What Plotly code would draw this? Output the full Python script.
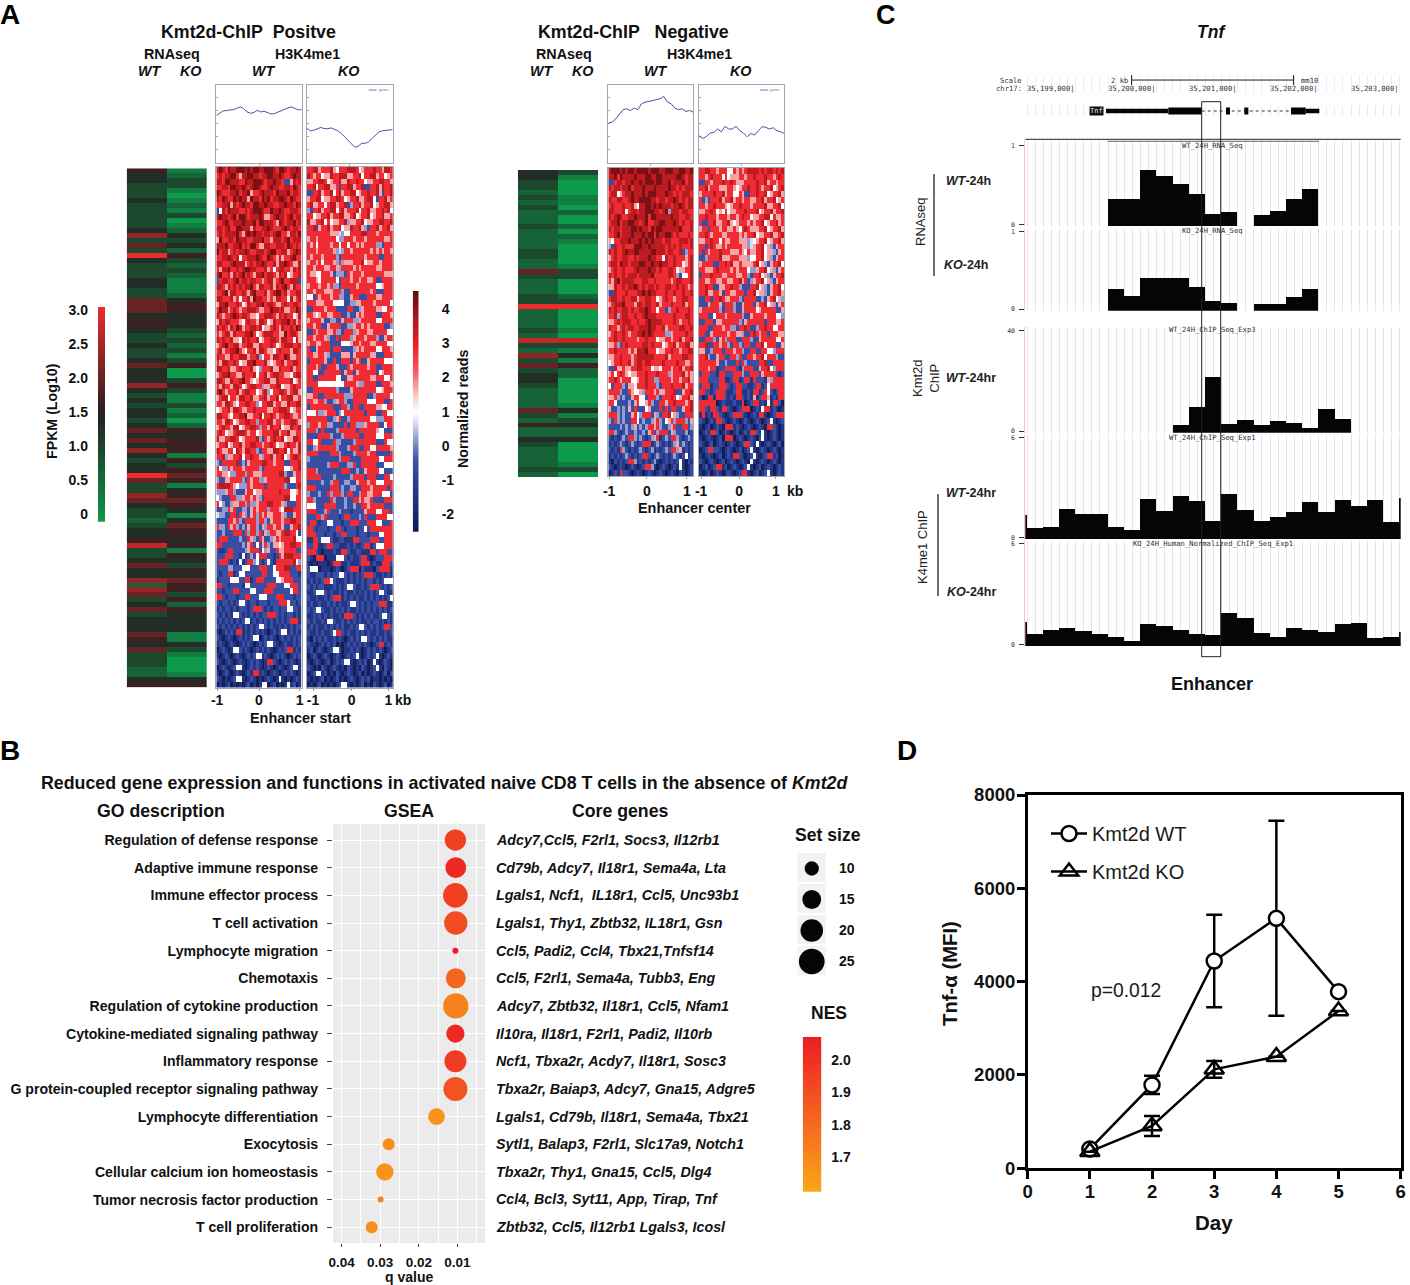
import plotly.graph_objects as go

W, H = 1410, 1285
FONT = "Liberation Sans"
MONO = "DejaVu Sans Mono"

# ---------- Panel A data (levels) ----------
RNA_POS_WT = "5443334333" "3347363943" "3344336664" "5543343346" "4447434344" "3464647434" "4963376433" "2344583346" "4472763463" "4446546333" "2245"
RNA_POS_KO = "1233101213" "0124342532" "3211124554" "4432323135" "0035311312" "0254555153" "5651456541" "4655451543" "5465535254" "4441143100" "0145"
RNA_NEG_WT = "4433232322" "2322223322" "6322233922" "2232832736" "3443222263" "252243222232"
RNA_NEG_KO = "3100011020" "0202100001" "3300023900" "0010831415" "2200000141" "342240000130"
RNA_LEVELS = [0, 0.33, 0.67, 1.0, 1.33, 1.67, 2.0, 2.33, 2.67, 3.0]
READ_LEVELS = [-2.3, -1.4, -0.6, 0.2, 0.7, 1.0, 1.7, 2.8, 3.5, 4.2]

POS_WT = """
898798899989899889998799878898
787889976889988788998898778988
887998887798899987889887226878
778879988987899877898877887987
987778897889677898887988897887
879877989886988798978899879877
778896878988799889887788988798
258798887787899987798898778887
898878979987888986678988789788
778987888988897998887698788978
887897799888687788987778987887
787888897689898878878997768879
697788798887788897768887897888
888977889787997668877888798787
978867878898778887899778867898
778898785778889877987686778977
887778988867878898778688987668
768897787899887778675788776878
897786878978768897887687856778
278877897887887767886789778882
887687878788976887786878976877
778968877876897778678997867788
887778675778698877676887758678
688977787568778897887667877887
798867876778887667798878667798
876778987887665778887687877568
687887776578776887568778897867
878768798677887856678768778798
767886877788975678887766978876
878778665878778567788768877586
678977886778866877787567888778
786778897657786887665787776887
877668778886778357768877986677
768877875668897778656778677887
887786678777865377786687778677
678897766877785778678877665788
887668778977656778866877778567
768776887567887736677885667877
897677786788775678357788767886
678857768877866778677857788667
776887657788773577886776687788
567786887667787777667788875677
887765778896677857787677887667
776887567788773777886776778876
678776885677887377687785668778
787566788876775677778867786677
866778875677778327678778566887
677856778677887767787566787768
876677587688773277668877857668
778366778577877637786778567887
327777782326777788776777227778
753376777677777327777777556778
776653377737766677777788322677
322667777327677336777777885577
788887653337677772777777322278
333677322267756677777787775567
532227733677676327777777885577
753223667737336777887776322277
223376722332676777377765888777
433227727632673767667776322677
222277673277773773267776778877
733276732326773263776776226778
223222777273773726377667887752
277722223227632762236767777855
772222222326725267326656778877
211277222236777253622766777722
222777221512325777221276888777
277721215127735212521777777853
222233222555222777225777882277
212277125522222277225577772221
122225552277127772222556777222
772212222155222222777222557772
221222772222552227772222225772
772122212277222555222777222122
212212125521221222122277752212
121221212221277721212212255221
212121552121212122777212122121
121212121255121212121212127771
212121212121212552121121212122
101212177121212121012125512121
210121012121255012121012121212
121012101212101212552101211212
012101552121012121210121277121
101210121012125512101212101212
210121012101212101772101212101
012101255101212101210121012551
101210121012177121012101212101
210101255101210101210151010121
010120101012010155012010151201
"""
POS_KO = """
778867778657778887567778776887
876775668778886677857788677567
667788756778668778775667788776
778577886672778867782277868778
227786778578677885677877862778
677885667788756778667885277867
786677578867782377867785677886
327786778857867778577866778785
775667786778866785677856778667
866778575667783667785667788778
778267786778566877863277867786
777777776664355777788777677777
677677777753377767776777777667
767577776775775776767777332777
777677777634377677777767676776
767776777732777777776777722777
677675777637366677785667767777
776777667763777767677777667777
766557776233327677767777777666
777657777752777677677667227777
677767767332777776777777556777
776777666777322777777767222777
552767776773322677222777667777
777666777555522336677776777775
227777677722227722367777665577
776567766777223226767777227776
677776223322677733677777557777
776772267777223367767677777223
227677766733277736777667777755
776777632272777367776777322677
677667772222555677677766777755
722677772777222236767777557776
776677632222666267777766222777
277777622722777276722677777555
777672277762227677777677227777
775522777777267726777777256777
772277777755226677777766777557
777755555555577776337777227776
227777777732222677777777556777
667722777777733377777223777775
776677322367732277777555777227
277777777222773277227777665577
555733677723577777772777227755
777777722367223777777755333777
377767733222272773336777722577
777327222237777772777777655222
222277773222377777227777555777
775572222733222237777777222755
223677777732223777227755777776
777722227773222237777677222227
322222222223777222277777755777
222222237772223372277777222555
777322222222777223226777755222
777772222322222377772777222775
222223223772233226777677555777
777222227772322332277767777727
322232273777327722377667775552
773222227322232277676672222777
555222777722232232277677777222
777222372223222122226777557772
222773722221277222327222777755
277212255222122777222777552227
772122212277212221225277777777
777222122122772221222122255777
117725552112211177222277722777
227711277221112121127712555777
777210111211772112211177277722
210777011155521211277101222777
101011101777112111277712117772
255501110121012777021110277771
211222121225521212127772112121
121212775211121212121221212555
212122111212125521121277721212
112555212112121121212121255211
211211212777121212112121212125
121121121212112552121212277711
212552112121212112121212121212
112121212112177721212121125521
212112155211212121211212212121
121211212121211212552121212772
211212112577212112121211211212
102121211212101212155212121211
211012121201012121212101277121
120121012552011212101212121012
012101210121012125101212510121
101210120121255101212015101210
210102101210102101021012510210
012551201021012101201012101202
101012010120101210121201101010
010120101012551010120102101201
"""
NEG_WT = """
899989899899998999889998899889
889798888988899889988888998788
227887889889899989988978889788
878878897888988898888988787888
788567889888989998889887878887
877887789889999887887889878788
787778778658899898988878898788
887778578878899988789388878877
878987788988897998888898877887
788978899887897788998889878778
878878889989887989988888897778
778978889888989979889987877787
657788898889898988878877788878
328778777999889888887878787778
878778988998888998887887782377
678778877878889887758778777678
788798878889988988988778775678
678778777898889887877887566778
878778788878888977777887325578
768978888777887787777767887778
668778788987878878778877878767
228777877788989887778778778778
788778778867788775678776778877
678889777688788778677787778677
878778878778898775772377877787
778378877877898887777778777887
667878887787789888877778767787
877678788778889887786777788778
678778767788989877773367777877
778778777767787775667767786778
667327877777887877756778677886
778777767688897775667787767788
667787776788888877778677778877
567787786788788777787777877667
228667667788777566577767786778
675787656677787778777367778676
778767775567787733777767767786
527773266577787773277787778677
777732276556377767667778226778
667323226775527773277787567786
775222232675567322776778777678
622323262722256222727277226778
777323226753777263277856322777
327323227752322367325673777326
222232323623237767322367227723
773212322322326723777263222312
212123277323212367123277321232
121232123212777123212123623212
212173212123212312123277361212
121212321212772123212123212512
102121277312121231012121251021
210121012101277310121012151012
012172210121012101210121021012
"""
NEG_KO = """
778877677755767678888787887878
776787775756667767787778776787
227767778778766677778778677677
778677766677656778778767785678
677778778677557622778778567786
723277786778677677667786778567
776778777656778777677778667785
667787565756677787778567786778
778777677767767877566778857667
722778667786567776767785677867
677277767766765787666778567786
778767776677776767785667786678
667787757667776663456778567786
772787667677777663467785632677
727677787776667657667785663267
223777786667776663557785632677
677772277878667666678563267785
776667877776767775336778563267
277787776677766773277856326778
776677667766778672367785632677
778772266778773222778563267785
778667762776677727785663267786
227727787667773277772232678563
222677762777322677726778563267
677777732777322677775677777226
777225777677777322677776777553
227772667777773267777772777667
777227776773327787223778775577
772267777767766322787677277766
227773267377722777322677777557
778227767732773277227785777226
662237772777677322772277553777
778322677227737227767785777322
777777622322272732222778227777
777677122777721377722677853777
277722177222777322777267777212
777222277112771277172221637777
277712277721277221127712577777
772212777211277112177127521277
201771777212177212161277612177
777777012111211701277121517720
772177217721012777012157712101
171217721012777210121771012777
210121772101210121012101251012
101201210777121012101210772101
012177201210120121772151012101
101210120777012101210251012101
210120121012101277215101210120
012772210121012012510121012101
101210120121772101251012771201
210121012012101210510121012101
012012771201210125101201210121
101201210121012771012012510121
"""


def rows(block, width=30):
    out = []
    for line in block.split():
        out.append([READ_LEVELS[int(c)] for c in line[:width].ljust(width, line[-1])])
    return out


PROFILE_POS_WT = [3.64, 3.79, 4.0, 4.03, 4.05, 4.1, 4.2, 4.31, 4.18, 3.92, 3.82, 3.87, 4.05, 3.92, 3.97, 3.85, 3.77, 3.79, 3.9, 4.05, 4.1, 4.23, 4.31, 4.18, 4.08, 4.1]
PROFILE_POS_KO = [2.64, 2.46, 2.51, 2.64, 2.72, 2.64, 2.62, 2.69, 2.56, 2.46, 2.26, 2.0, 1.74, 1.44, 1.18, 1.28, 1.51, 1.49, 1.62, 1.87, 2.13, 2.38, 2.46, 2.51, 2.51, 2.56]
PROFILE_NEG_WT = [3.06, 3.12, 3.38, 3.77, 4.1, 4.16, 4.03, 4.21, 4.1, 4.55, 4.68, 4.73, 4.81, 4.88, 4.94, 5.12, 4.68, 4.55, 4.21, 4.1, 4.16, 3.95, 4.03, 3.9]
PROFILE_NEG_KO = [2.08, 1.87, 2.03, 2.29, 2.34, 2.6, 2.39, 2.81, 2.6, 2.6, 2.81, 2.47, 2.29, 2.0, 2.26, 2.13, 2.47, 2.78, 2.73, 2.6, 2.7, 2.47, 2.39, 2.26]

# ---------- Panel B data ----------
GO_TERMS = ["Regulation of defense response", "Adaptive immune response", "Immune effector process", "T cell activation",
            "Lymphocyte migration", "Chemotaxis", "Regulation of cytokine production", "Cytokine-mediated signaling pathway",
            "Inflammatory response", "G protein-coupled receptor signaling pathway", "Lymphocyte differentiation", "Exocytosis",
            "Cellular calcium ion homeostasis", "Tumor necrosis factor production", "T cell proliferation"]
CORE_GENES = ["Adcy7,Ccl5, F2rl1, Socs3, Il12rb1", "Cd79b, Adcy7, Il18r1, Sema4a, Lta", "Lgals1, Ncf1,  IL18r1, Ccl5, Unc93b1",
              "Lgals1, Thy1, Zbtb32, IL18r1, Gsn", "Ccl5, Padi2, Ccl4, Tbx21,Tnfsf14", "Ccl5, F2rl1, Sema4a, Tubb3, Eng",
              "Adcy7, Zbtb32, Il18r1, Ccl5, Nfam1", "Il10ra, Il18r1, F2rl1, Padi2, Il10rb", "Ncf1, Tbxa2r, Acdy7, Il18r1, Sosc3",
              "Tbxa2r, Baiap3, Adcy7, Gna15, Adgre5", "Lgals1, Cd79b, Il18r1, Sema4a, Tbx21", "Sytl1, Balap3, F2rl1, Slc17a9, Notch1",
              "Tbxa2r, Thy1, Gna15, Ccl5, Dlg4", "Ccl4, Bcl3, Syt11, App, Tirap, Tnf", "Zbtb32, Ccl5, Il12rb1 Lgals3, Icosl"]
Q_VALUES = [0.0105, 0.0104, 0.0105, 0.0104, 0.0105, 0.0104, 0.0104, 0.0105, 0.0105, 0.0105, 0.0154, 0.0278, 0.0288, 0.0299, 0.0322]
SET_SIZES = [18.2, 17.4, 23.3, 21.2, 4.5, 16.4, 24.3, 14.3, 19.2, 22.2, 12.4, 8.0, 13.2, 4.5, 8.0]
NES = [1.95, 2.03, 1.95, 1.90, 2.07, 1.82, 1.72, 2.03, 1.96, 1.88, 1.66, 1.68, 1.66, 1.72, 1.68]
SIZE_LEGEND = [10, 15, 20, 25]

# ---------- Panel C data ----------
RNA_WT_TRACK = [0.34, 0.34, 0.71, 0.63, 0.53, 0.41, 0.16, 0.18, None, 0.14, 0.19, 0.34, 0.47]
RNA_KO_TRACK = [0.27, 0.19, 0.42, 0.41, 0.42, 0.30, 0.12, 0.10, None, 0.08, 0.09, 0.17, 0.28]
KMT2D_TRACK = [2.9, 10.2, 22, 3.5, 4.8, 2.9, 4.4, 3.9, 1.7, 9.3, 5.2]
K4_WT_TRACK = [1.43, 0.65, 0.75, 1.78, 1.51, 1.51, 0.75, 0.55, 2.37, 1.65, 2.57, 2.24, 1.10, 2.69, 1.73, 1.10, 1.33, 1.63, 2.2, 1.61, 2.29, 1.96, 2.29, 1.02, 2.45]
K4_KO_TRACK = [1.39, 0.73, 0.92, 1.04, 0.86, 0.73, 0.55, 0.31, 1.27, 1.18, 0.94, 0.69, 0.63, 1.92, 1.63, 0.76, 0.53, 1.08, 0.94, 0.84, 1.29, 1.35, 0.49, 0.53, 0.84]
BIN = 200
RNA_START, KMT2D_START, K4_START = 35199400, 35200200, 35198200
GENE_CDS_NARROW = [(35199374, 35200144), (35201840, 35202008)]
GENE_EXON_WIDE = [(35200144, 35200556), (35201658, 35201840)]
GENE_EXON_SMALL = [(35200856, 35200905), (35201082, 35201132)]
GENE_INTRON = (35200556, 35201658)
COORD_TICKS = [35199000, 35200000, 35201000, 35202000, 35203000]
SCALE_BAR = (35199690, 35201690)

# ---------- Panel D data ----------
DAYS = [1, 2, 3, 4, 5]
WT_MFI = [414, 1786, 4443, 5357, 3786]
WT_ERR = [0, 196, 990, 2090, 0]
KO_MFI = [357, 907, 2121, 2393, 3371]
KO_ERR = [0, 215, 180, 0, 0]

# ---------- helpers ----------
fig = go.Figure()
ann, shp = [], []
n_ax = [0]


def px_x(x):
    return x / W


def px_y(y):
    return 1 - y / H


def axes(x0, x1, y0, y1, xa=None, ya=None):
    n_ax[0] += 1
    n = n_ax[0]
    base = dict(showgrid=False, zeroline=False, showticklabels=False, ticks="", showline=False, layer="below traces", automargin=False)
    xd = dict(base, domain=[px_x(x0), px_x(x1)], anchor=f"y{n}")
    yd = dict(base, domain=[px_y(y1), px_y(y0)], anchor=f"x{n}")
    xd.update(xa or {})
    yd.update(ya or {})
    fig.layout[f"xaxis{n}"] = xd
    fig.layout[f"yaxis{n}"] = yd
    return f"x{n}", f"y{n}"


def T(x, y, text, size=13, bold=True, italic=False, angle=0, color="#111", anchor="center", family=FONT):
    if italic:
        text = f"<i>{text}</i>"
    if bold:
        text = f"<b>{text}</b>"
    ann.append(dict(x=px_x(x), y=px_y(y), xref="paper", yref="paper", text=text, showarrow=False,
                    font=dict(size=size, family=family, color=color), xanchor=anchor, yanchor="middle",
                    textangle=angle, align="center"))


def L(x0, y0, x1, y1, color="#222", width=1):
    shp.append(dict(type="line", xref="paper", yref="paper", x0=px_x(x0), x1=px_x(x1), y0=px_y(y0), y1=px_y(y1),
                    line=dict(color=color, width=width), layer="above"))


def ramp(x0, x1, y0, y1, vmin, vmax, scale, vals, text, side="right", standoff=10, size=14, ticks=""):
    zs = [vmin + (vmax - vmin) * i / 119 for i in range(120)]
    xa, ya = axes(x0, x1, y0, y1, ya=dict(range=[vmin, vmax], tickvals=vals, ticktext=[f"<b>{t}</b>" for t in text], side=side,
                                          showticklabels=True, ticklabelstandoff=standoff, ticks=ticks,
                                          ticklen=5, tickcolor="rgba(255,255,255,0.45)",
                                          tickfont=dict(size=size, family=FONT, color="#111")),
                  xa=dict(range=[-0.5, 0.5]))
    fig.add_trace(go.Heatmap(z=[[v] for v in zs], x=[0], y=zs, zmin=vmin, zmax=vmax, colorscale=scale,
                             showscale=False, xaxis=xa, yaxis=ya, hoverinfo="skip"))


READ_SCALE_POINTS = [(-2.5, "#111a50"), (-1, "#2b3f96"), (-0.4, "#3f55a8"), (0.1, "#8390c8"), (0.6, "#ccd0e8"), (1.0, "#ffffff"),
                     (1.5, "#f7c4c4"), (2.2, "#f0595c"), (3.0, "#ee1c25"), (3.6, "#b31b1f"), (4.52, "#5c0d0f")]
READ_SCALE = [[(v + 2.5) / 7.02, c] for v, c in READ_SCALE_POINTS]
RNA_SCALE = [[0, "#0d9a4b"], [0.5, "#231f20"], [1, "#ee2a2a"]]
NES_SCALE = [[0, "#faa61a"], [1, "#ed1c24"]]


def rna_heat(x0, x1, y0, y1, wt, ko):
    xa, ya = axes(x0, x1, y0, y1, xa=dict(type="category", range=[-0.5, 1.5]), ya=dict(range=[len(wt) - 0.5, -0.5]))
    z = [[RNA_LEVELS[int(a)], RNA_LEVELS[int(b)]] for a, b in zip(wt, ko)]
    fig.add_trace(go.Heatmap(z=z, x=["WT", "KO"], zmin=0, zmax=3, colorscale=RNA_SCALE, showscale=False,
                             xaxis=xa, yaxis=ya, hoverinfo="skip"))


def read_heat(x0, x1, y0, y1, block, tick_pos, standoff):
    z = rows(block)
    nr, nc = len(z), len(z[0])
    xa, ya = axes(x0, x1, y0, y1,
                  xa=dict(range=[-1, 1], tickvals=tick_pos, ticktext=["<b>-1</b>", "<b>0</b>", "<b>1</b>"], showticklabels=True,
                          ticks="outside", ticklen=2, tickcolor="#999", tickfont=dict(size=14, family=FONT, color="#111"),
                          showline=True, linecolor="#a5a5ad", mirror=True, ticklabelstandoff=standoff),
                  ya=dict(range=[nr - 0.5, -0.5], showline=True, linecolor="#a5a5ad", mirror=True))
    fig.add_trace(go.Heatmap(z=z, x0=-1 + 1.0 / nc, dx=2.0 / nc, y0=0, dy=1, zmin=-2.5, zmax=4.52, colorscale=READ_SCALE,
                             showscale=False, xaxis=xa, yaxis=ya, hoverinfo="skip"))


def profile(x0, x1, y0, y1, values, legend=False):
    n = len(values)
    xa, ya = axes(x0, x1, y0, y1,
                  xa=dict(range=[-1, 1], showline=True, linecolor="#a5a5ad", mirror=True, tickvals=[0], ticks="outside", ticklen=2, tickcolor="#aaa"),
                  ya=dict(range=[0, 6], showline=True, linecolor="#a5a5ad", mirror=True, tickvals=[1, 2, 3, 4, 5], ticks="inside", ticklen=2, tickcolor="#aaa"))
    fig.add_trace(go.Scatter(x=[-1 + 2 * i / (n - 1) for i in range(n)], y=values, mode="lines",
                             line=dict(color="#4a50a8", width=1), xaxis=xa, yaxis=ya, showlegend=False, hoverinfo="skip"))
    if legend:
        L(x1 - 24, y0 + 5, x1 - 16, y0 + 5, "#4a50a8", 0.8)
        T(x1 - 9, y0 + 5, "genes", 3.5, bold=False, color="#777")


# ---------- Panel A ----------
T(10, 15, "A", 28, color="#000")
T(248, 32, "Kmt2d-ChIP&#160;&#160;Positve", 17.8)
T(172, 54, "RNAseq", 14.3)
T(307, 54, "H3K4me1", 14.3)
for x, t in [(149, "WT"), (190, "KO"), (263, "WT"), (348, "KO")]:
    T(x, 71, t, 14.3, italic=True)
T(633, 32, "Kmt2d-ChIP&#160;&#160;&#160;Negative", 17.8)
T(564, 54, "RNAseq", 14.3)
T(699, 54, "H3K4me1", 14.3)
for x, t in [(541, "WT"), (582, "KO"), (655, "WT"), (740, "KO")]:
    T(x, 71, t, 14.3, italic=True)

profile(216.3, 301.7, 85, 162.7, PROFILE_POS_WT)
profile(307, 392.7, 85, 162.7, PROFILE_POS_KO, legend=True)
profile(608.3, 693.3, 85, 162.7, PROFILE_NEG_WT)
profile(699, 784.3, 85, 162.7, PROFILE_NEG_KO, legend=True)

rna_heat(126.7, 207, 168.3, 687.5, RNA_POS_WT, RNA_POS_KO)
rna_heat(518, 598.3, 170, 477, RNA_NEG_WT, RNA_NEG_KO)
read_heat(216.3, 301.7, 167, 687.5, POS_WT, [-0.98, 0.0, 0.95], -2)
read_heat(307, 392.7, 167, 687.5, POS_KO, [-0.86, 0.04, 0.9], -2)
read_heat(608.3, 693.3, 168, 476, NEG_WT, [-0.98, -0.09, 0.85], 0)
read_heat(699, 784.3, 168, 476, NEG_KO, [-0.95, -0.06, 0.8], 0)
T(403, 700, "kb", 14)
T(795, 491, "kb", 14)
T(300, 718, "Enhancer start", 14.4)
T(694, 508, "Enhancer center", 14.4)

ramp(98, 105, 307, 521.7, -0.11, 3.04, RNA_SCALE, [0, 0.5, 1, 1.5, 2, 2.5, 3], ["0", "0.5", "1.0", "1.5", "2.0", "2.5", "3.0"], side="left", standoff=9)
T(52, 411, "FPKM (Log10)", 14.2, angle=-90)
ramp(412.7, 418.7, 291, 531.7, -2.5, 4.52, READ_SCALE, [-2, -1, 0, 1, 2, 3, 4], ["-2", "-1", "0", "1", "2", "3", "4"], standoff=22)
T(463, 409, "Normalized reads", 14.2, angle=-90)

# ---------- Panel B ----------
T(10, 750, "B", 28, color="#000")
T(444, 783, "Reduced gene expression and functions in activated naive CD8 T cells in the absence of <i>Kmt2d</i>", 17.8)
T(161, 811, "GO description", 17.7)
T(409, 811, "GSEA", 17.7)
T(620, 811, "Core genes", 17.7)


def dot_diameter(s):
    return (30.4 * s - 100) ** 0.5


xa, ya = axes(333, 485, 824, 1243,
              xa=dict(range=[0.04225, 0.00282], tickvals=[0.04, 0.03, 0.02, 0.01], ticktext=["<b>0.04</b>", "<b>0.03</b>", "<b>0.02</b>", "<b>0.01</b>"],
                      showticklabels=True, showgrid=True, gridcolor="white", gridwidth=1.3, ticks="outside", ticklen=3, tickcolor="#444",
                      tickfont=dict(size=13.5, family=FONT, color="#111"), ticklabelstandoff=4,
                      minor=dict(dtick=0.005, tick0=0, showgrid=True, gridcolor="white", gridwidth=0.7, ticks="")),
              ya=dict(type="category", categoryorder="array", categoryarray=GO_TERMS, range=[14.57, -0.58], tickvals=GO_TERMS,
                      ticktext=[f"<b>{t}</b>" for t in GO_TERMS], showticklabels=True, showgrid=True, gridcolor="white", gridwidth=1.3,
                      ticks="outside", ticklen=5, tickcolor="#444", ticklabelstandoff=6,
                      tickfont=dict(size=14.1, family=FONT, color="#111")))
shp.append(dict(type="rect", xref="paper", yref="paper", x0=px_x(333), x1=px_x(485), y0=px_y(1243), y1=px_y(824),
                fillcolor="#ebebeb", line=dict(width=0), layer="below"))
fig.add_trace(go.Scatter(x=Q_VALUES, y=GO_TERMS, mode="markers", xaxis=xa, yaxis=ya, showlegend=False,
                         marker=dict(size=[dot_diameter(s) for s in SET_SIZES], sizemode="diameter", color=NES,
                                     cmin=1.595, cmax=2.07, colorscale=NES_SCALE, line=dict(width=0), opacity=1)))
T(409, 1277, "q value", 14)
for i, g in enumerate(CORE_GENES):
    T(494, 840 + 27.65 * i, g, 14.25, italic=True, anchor="left")

T(828, 835, "Set size", 17.6)
for c in range(4):
    shp.append(dict(type="rect", xref="paper", yref="paper", x0=px_x(797.5), x1=px_x(826), y0=px_y(853 + 31 * c + 29), y1=px_y(853 + 31 * c),
                    fillcolor="#f2f2f2", line=dict(width=0), layer="below"))
labels = [str(s) for s in SIZE_LEGEND]
xa, ya = axes(797.5, 826, 853, 977,
              ya=dict(type="category", categoryorder="array", categoryarray=labels, range=[3.5, -0.5], tickvals=labels,
                      ticktext=[f"<b>{t}</b>" for t in labels], showticklabels=True, side="right", ticklabelstandoff=12,
                      tickfont=dict(size=14, family=FONT, color="#111")),
              xa=dict(range=[-0.5, 0.5]))
fig.add_trace(go.Scatter(x=[0, 0, 0, 0], y=labels, mode="markers", xaxis=xa, yaxis=ya, showlegend=False,
                         marker=dict(size=[dot_diameter(s) for s in SIZE_LEGEND], sizemode="diameter", color="#050505", line=dict(width=0), opacity=1)))
T(829, 1013, "NES", 17.5)
ramp(802.7, 821.3, 1037, 1191.7, 1.595, 2.07, NES_SCALE, [1.7, 1.8, 1.9, 2.0], ["1.7", "1.8", "1.9", "2.0"], standoff=9, ticks="inside")

# ---------- Panel C ----------
T(886, 15, "C", 27, color="#000")
T(1211, 32, "Tnf", 17.5, italic=True)


def G(px):
    return 35200000 + (px - 1156.67) / 0.081


G_RANGE = [G(1025.3), G(1400.7)]
GRID = dict(range=G_RANGE, showgrid=True, gridcolor="#e2e2f0", gridwidth=1, tick0=35198400, dtick=100)


def track(y0, y1, y_max, top_tick, values, start, title, title_y, tick_top_label):
    base_tick = y_max * 1.5 / (y1 - y0)
    xa, ya = axes(1025.3, 1400.7, y0, y1, xa=dict(GRID),
                  ya=dict(range=[0, y_max], tickvals=[base_tick, top_tick], ticktext=["0", tick_top_label], showticklabels=True,
                          ticks="outside", ticklen=5, tickcolor="#333", showline=True, linecolor="#f6c2c8", ticklabelstandoff=3,
                          tickfont=dict(size=6.5, family=MONO, color="#333")))
    fig.add_trace(go.Bar(x=[start + BIN * i + BIN / 2 for i in range(len(values))], y=values, width=BIN, marker=dict(color="#050505", line=dict(width=0)),
                         xaxis=xa, yaxis=ya, showlegend=False, hoverinfo="skip"))
    T(1212.7, title_y, title, 7.2, bold=False, color="#333", family=MONO)


track(139.5, 226, 1.08, 1, RNA_WT_TRACK, RNA_START, "WT_24H_RNA_Seq", 145, "1")
track(229, 310.7, 1.038, 1, RNA_KO_TRACK, RNA_START, "KO_24H_RNA_Seq", 230, "1")
track(327, 432.7, 41.45, 40, KMT2D_TRACK, KMT2D_START, "WT_24H_ChIP_Seq_Exp3", 330, "40")
track(435, 539.3, 6.135, 6, K4_WT_TRACK, K4_START, "WT_24H_ChIP_Seq_Exp1", 437, "6")
track(541, 646, 6.13, 6, K4_KO_TRACK, K4_START, "KO_24H_Human_Normalized_ChIP_Seq_Exp1", 543, "6")

# ruler rows
xa, ya = axes(1025.3, 1400.7, 75, 93, xa=dict(range=G_RANGE, showgrid=True, gridcolor="#ededf3", tick0=35198400, dtick=100), ya=dict(range=[0, 1]))
fig.add_trace(go.Scatter(x=list(SCALE_BAR), y=[0.72, 0.72], mode="lines+markers", xaxis=xa, yaxis=ya, showlegend=False, hoverinfo="skip",
                         line=dict(color="#222", width=1), marker=dict(symbol="line-ns", size=7, line=dict(color="#222", width=1))))
T(1011, 80, "Scale", 7.2, bold=False, color="#333", family=MONO)
T(1009, 89, "chr17:", 7.2, bold=False, color="#333", family=MONO)
T(1119, 80, "2 kb", 7.2, bold=False, color="#333", family=MONO)
T(1309, 80, "mm10", 7.2, bold=False, color="#333", family=MONO)
for g in COORD_TICKS:
    px = 1156.67 + (g - 35200000) * 0.081
    T(px + 1, 89, f"{g:,}|", 7.2, bold=False, color="#333", family=MONO, anchor="right")

# gene model
xa, ya = axes(1025.3, 1400.7, 106, 116, xa=dict(range=G_RANGE, showgrid=True, gridcolor="#f2e6ee", tick0=35198400, dtick=100), ya=dict(range=[-1, 1]))
fig.add_trace(go.Scatter(x=list(GENE_INTRON), y=[0, 0], mode="lines", xaxis=xa, yaxis=ya, showlegend=False, hoverinfo="skip",
                         line=dict(color="#2f2f55", width=1, dash="dot")))
for seg, w in [(GENE_CDS_NARROW, 4.5), (GENE_EXON_WIDE, 7), (GENE_EXON_SMALL, 7)]:
    for a, b in seg:
        fig.add_trace(go.Scatter(x=[a, b], y=[0, 0], mode="lines", xaxis=xa, yaxis=ya, showlegend=False, hoverinfo="skip",
                                 line=dict(color="#050505", width=w)))
ann.append(dict(x=px_x(1096.5), y=px_y(111), xref="paper", yref="paper", text="Tnf", showarrow=False, bgcolor="#111", borderpad=0,
                font=dict(size=7, family=MONO, color="#eee"), xanchor="center", yanchor="middle"))
L(1025.3, 139.3, 1400.7, 139.3, "#222", 1)
L(1107.7, 141.3, 1319, 141.3, "#666", 1)
shp.append(dict(type="rect", xref="paper", yref="paper", x0=px_x(1201.7), x1=px_x(1220.7), y0=px_y(656.7), y1=px_y(101.7),
                line=dict(color="#222", width=1), fillcolor="rgba(0,0,0,0)", layer="above"))

T(968, 181, "<i>WT</i>-24h", 12.5, color="#222")
T(966, 265, "<i>KO</i>-24h", 12.5, color="#222")
T(920, 222, "RNAseq", 13, angle=-90, bold=False, color="#222")
L(934, 174, 934, 276, "#222", 1.3)
T(926, 378, "Kmt2d<br>ChIP", 13, angle=-90, bold=False, color="#222")
T(971, 378, "<i>WT</i>-24hr", 12.5, color="#222")
T(922, 547, "K4me1 ChIP", 13, angle=-90, bold=False, color="#222")
L(938, 494, 938, 596, "#222", 1.3)
T(971, 493, "<i>WT</i>-24hr", 12.5, color="#222")
T(971, 592, "<i>KO</i>-24hr", 12.5, color="#222")
T(1212, 684, "Enhancer", 18)

# ---------- Panel D ----------
T(907, 750, "D", 28, color="#000")
axis_font = dict(size=18.5, family=FONT, color="#111")
xa, ya = axes(1027.7, 1400.7, 795, 1168.3,
              xa=dict(range=[0, 6], tickvals=[0, 1, 2, 3, 4, 5, 6], ticktext=[f"<b>{v}</b>" for v in range(7)], showticklabels=True, showline=True,
                      linecolor="#000", linewidth=2.5, mirror=True, ticks="outside", ticklen=8, tickwidth=2.5, tickcolor="#000", tickfont=axis_font, ticklabelstandoff=-3),
              ya=dict(range=[0, 8000], tickvals=[0, 2000, 4000, 6000, 8000], ticktext=[f"<b>{v}</b>" for v in [0, 2000, 4000, 6000, 8000]], showticklabels=True,
                      showline=True, linecolor="#000", linewidth=2.5, mirror=True, ticks="outside", ticklen=8, tickwidth=2.5, tickcolor="#000", tickfont=axis_font, ticklabelstandoff=-2))


def err(vals):
    return dict(type="data", array=vals, visible=True, color="#000", thickness=2.5, width=8)


fig.add_trace(go.Scatter(x=DAYS, y=WT_MFI, error_y=err(WT_ERR), mode="lines+markers", name="Kmt2d WT", legendgroup="wt", xaxis=xa, yaxis=ya,
                         line=dict(color="#000", width=2.5), cliponaxis=False,
                         marker=dict(symbol="circle", size=15, color="#fff", line=dict(color="#000", width=2.5))))
fig.add_trace(go.Scatter(x=DAYS, y=KO_MFI, error_y=err(KO_ERR), mode="lines+markers", name="Kmt2d KO", legendgroup="ko", xaxis=xa, yaxis=ya,
                         line=dict(color="#000", width=2.5), cliponaxis=False,
                         marker=dict(symbol="triangle-up-open", size=17, color="#000", line=dict(color="#000", width=2.5))))
T(1126, 990, "p=0.012", 19.3, bold=False, color="#1a1a1a")
T(1214, 1222, "Day", 20.5)
T(950, 974, "Tnf-&#945; (MFI)", 20.3, angle=-90)

fig.update_layout(
    width=W, height=H, margin=dict(l=0, r=0, t=0, b=0, pad=0), paper_bgcolor="white", plot_bgcolor="rgba(0,0,0,0)",
    font=dict(family=FONT), bargap=0, showlegend=True, annotations=ann, shapes=shp,
    legend=dict(x=px_x(1046), y=px_y(814), xanchor="left", yanchor="top", bgcolor="rgba(0,0,0,0)", tracegroupgap=9,
                font=dict(size=20, family=FONT, color="#1a1a1a"), itemwidth=36),
)
fig.write_html("out.html", config={"displayModeBar": False}, post_script="document.body.style.margin='0';")
